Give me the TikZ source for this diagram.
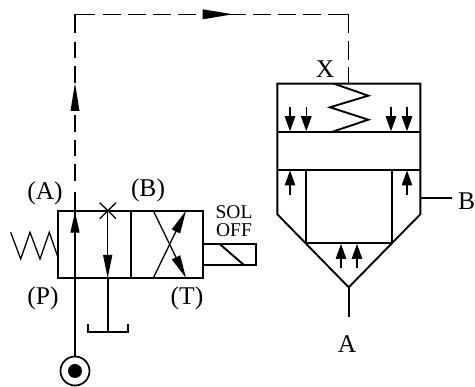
\documentclass[tikz,border=0pt]{standalone}
\usepackage{fontspec}
\setmainfont{Liberation Serif}
\usetikzlibrary{arrows.meta}
\tikzset{
  thick line/.style={line width=1.9pt,line join=miter},
  thin line/.style={line width=1.3pt},
  pilot solid/.style={line width=1.4pt},
  pilot left/.style={line width=1.4pt,dash pattern=on 16.8pt off 7.7pt},
  pilot top/.style={line width=1.4pt,dash pattern=on 17.3pt off 7.7pt},
  pilot right/.style={line width=1.4pt,dash pattern=on 19pt off 7pt},
  head/.style={line width=1.3pt,-{Triangle[length=#1,width=10.5pt]}},
  head/.default=10pt,
  bighead/.style={line width=1.3pt,-{Triangle[length=#1,width=9pt]}},
  lab/.style={inner sep=0pt,font=\fontsize{25.5}{25.5}\selectfont},
  smalllab/.style={inner sep=0pt,align=center,font=\fontsize{19.5}{18}\selectfont}
}
\begin{document}
\begin{tikzpicture}[x=1pt,y=-1pt]
\useasboundingbox (0,0) rectangle (475,387);
% pilot line
\coordinate (pump top) at (75,357);
\coordinate (solid end) at (75,192);
\coordinate (dash end) at (75,182);
\coordinate (left start) at (75,41.7);
\coordinate (corner a low) at (75,33.3);
\coordinate (corner a) at (75,14.3);
\coordinate (corner a right) at (95,14.3);
\coordinate (top start) at (103.3,14.3);
\coordinate (top end) at (320.6,14.3);
\coordinate (corner b left) at (328.3,14.3);
\coordinate (corner b) at (348.5,14.3);
\coordinate (corner b low) at (348.5,33.3);
\coordinate (right start) at (348.5,41);
\coordinate (x port) at (348.5,83.7);
\draw[pilot left] (left start) -- (dash end);
\draw[pilot top] (top start) -- (top end);
\draw[pilot right] (right start) -- (x port);
\draw[pilot solid] (corner a low) -- (corner a) -- (corner a right);
\draw[pilot solid] (corner b left) -- (corner b) -- (corner b low);
\draw[thin line] (pump top) -- (solid end);
% arrows on pilot line
\fill (70.5,111) -- (75,83) -- (79.5,111) -- cycle;
\fill (202.7,9.3) -- (233,14.3) -- (202.7,19.3) -- cycle;
% pump
\node[circle,draw,line width=1.7pt,minimum size=29pt,inner sep=0pt] (pump) at (75,371) {};
\node[circle,fill,minimum size=14pt,inner sep=0pt] (pump dot) at (75,371) {};
% valve body
\draw[thick line] (58,210.7) rectangle (203,278);
\draw[thick line] (130.7,210.7) -- (130.7,278);
% spring
\draw[thin line] (10.7,232.3) -- (20.7,259) -- (30,232.3) -- (40,259) -- (49.3,232.3) -- (58,257.5);
% left envelope
\draw[bighead=21pt] (75,240) -- (75,211.7);
\draw[thin line] (99.7,202.7) -- (116,218.7) (116,202.7) -- (99.7,218.7);
\draw[thin line] (107.7,210.7) -- (107.7,240);
\draw[bighead=23pt] (107.7,240) -- (107.7,278);
\draw[thick line] (107.7,278) -- (107.7,331.7);
\draw[thick line] (88.3,324) -- (88.3,331.7) -- (128,331.7) -- (128,324);
% right envelope
\coordinate (c1) at (153.3,210.7);
\coordinate (c2) at (186,278);
\coordinate (c3) at (153.3,278);
\coordinate (c4) at (186,210.7);
\draw[bighead=23pt] (c1) -- (c2);
\draw[bighead=23pt] (c3) -- (c4);
% solenoid
\draw[thick line] (203,244.3) -- (256.3,244.3) -- (256.3,265.3) -- (203,265.3);
\draw[thick line] (220,244.3) -- (244.3,265.3);
% main valve
\draw[thick line] (277.3,83.7) -- (420.3,83.7) -- (420.3,214.3) -- (348.7,287.3) -- (277.3,214.3) -- cycle;
\draw[thick line] (277.3,131.7) -- (420.3,131.7);
\draw[thick line] (277.3,169.7) -- (420.3,169.7);
\draw[thick line] (305.7,169.7) -- (305.7,243.3) -- (391.7,243.3) -- (391.7,169.7);
% main spring
\draw[thick line] (334,83.7) -- (368.3,95.7) -- (330,107.3) -- (368.3,119.7) -- (332.7,131.7);
% port stubs
\coordinate (a stub) at (348.7,316.7);
\coordinate (apex) at (348.7,287.3);
\coordinate (b stub) at (451.7,197.7);
\coordinate (b wall) at (420.3,197.7);
\draw[thick line] (apex) -- (a stub);
\draw[thick line] (b wall) -- (b stub);
% flow arrows
\foreach \x in {290,306.3,391,407}
  \draw[head=15pt] (\x,106.7) -- (\x,131.2);
\foreach \x in {290,407}
  \draw[head=15pt] (\x,195) -- (\x,170.5);
\foreach \x in {341,357}
  \draw[head=15pt] (\x,268) -- (\x,244);
% labels
\node[lab] (la) at (45,193) {(A)};
\node[lab] (lb) at (148,190) {(B)};
\node[lab] (lp) at (43,298) {(P)};
\node[lab] (lt) at (187,298) {(T)};
\node[smalllab] (sol) at (234,221) {SOL\\OFF};
\node[lab] (lx) at (325,69) {X};
\node[lab] (lbb) at (466.7,201) {B};
\node[lab] (laa) at (347,344) {A};
\end{tikzpicture}
\end{document}
